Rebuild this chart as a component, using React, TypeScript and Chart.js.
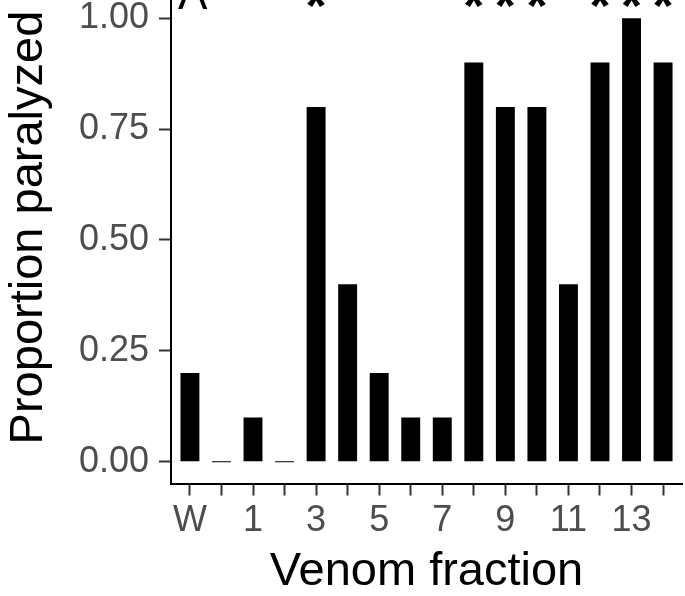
import React, { useEffect, useRef } from 'react';
import { Chart, registerables } from 'chart.js';

Chart.register(...registerables);

// ---- data ----
const CATEGORIES = ['W', '0', '1', '2', '3', '4', '5', '6', '7', '8', '9', '10', '11', '12', '13', '14'];
const PROPORTION = [0.2, 0, 0.1, 0, 0.8, 0.4, 0.2, 0.1, 0.1, 0.9, 0.8, 0.8, 0.4, 0.9, 1.0, 0.9];
const SIGNIFICANT = [false, false, false, false, true, false, false, false, false, true, true, true, false, true, true, true];
const Y_TICKS = [0, 0.25, 0.5, 0.75, 1.0];
const PANEL_LABEL = 'A';
const X_TITLE = 'Venom fraction';
const Y_TITLE = 'Proportion paralyzed';

// ---- scale ranges ----
const Y_MIN = -0.049;
const Y_MAX = 1.105;
const X_MIN = -0.6;
const X_MAX = CATEGORIES.length - 1 + 0.6;
const SIG_Y = 1.02;
const PANEL_Y = 1.02;

const FONT = '"Liberation Sans", Arial, Helvetica, sans-serif';
const OFFSET = 60;
const W = 685;
const H = 596 + OFFSET;

const annotatePlugin = {
  id: 'annotate',
  afterDatasetsDraw(chart: any) {
    const { ctx, chartArea } = chart;
    const x = chart.scales.x;
    const y = chart.scales.y;
    ctx.save();
    ctx.fillStyle = '#000000';
    ctx.font = `bold 54px ${FONT}`;
    ctx.textAlign = 'center';
    ctx.textBaseline = 'middle';
    SIGNIFICANT.forEach((s, i) => {
      if (s) ctx.fillText('*', x.getPixelForValue(i), y.getPixelForValue(SIG_Y));
    });
    ctx.font = `44px ${FONT}`;
    ctx.textAlign = 'left';
    ctx.textBaseline = 'alphabetic';
    ctx.fillText(PANEL_LABEL, chartArea.left + 7, y.getPixelForValue(PANEL_Y));
    ctx.restore();
  },
};

export default function App() {
  const ref = useRef<HTMLCanvasElement | null>(null);

  useEffect(() => {
    if (!ref.current) return;
    const chart = new Chart(ref.current, {
      type: 'bar',
      data: {
        datasets: [
          {
            data: PROPORTION.map((v, i) => ({ x: i, y: v })),
            backgroundColor: '#000000',
            borderWidth: 0,
            barPercentage: 0.6,
            categoryPercentage: 1,
            minBarLength: 1,
          },
        ],
      },
      options: {
        responsive: false,
        animation: false,
        devicePixelRatio: 1,
        layout: { padding: { top: 26.5, left: 0, right: 3, bottom: 0 } },
        plugins: { legend: { display: false }, tooltip: { enabled: false } },
        scales: {
          x: {
            type: 'linear',
            min: X_MIN,
            max: X_MAX,
            offset: false,
            afterBuildTicks: (s: any) => {
              s.ticks = CATEGORIES.map((_, i) => ({ value: i }));
            },
            afterFit: (s: any) => {
              s.height = H - (OFFSET + 483.5);
            },
            ticks: {
              autoSkip: false,
              maxRotation: 0,
              minRotation: 0,
              padding: 4,
              color: '#4d4d4d',
              font: { family: FONT, size: 36 },
              callback: (v: any) => {
                const i = Math.round(Number(v));
                return i % 2 === 0 ? CATEGORIES[i] : '';
              },
            },
            grid: {
              offset: false,
              drawOnChartArea: false,
              drawTicks: true,
              tickLength: 12,
              tickWidth: 2,
              tickColor: '#333333',
            },
            border: { display: true, color: '#000000', width: 2 },
            title: {
              display: true,
              text: X_TITLE,
              color: '#000000',
              font: { family: FONT, size: 47, lineHeight: 1 },
              padding: { top: 0, bottom: 0 },
            },
          },
          y: {
            type: 'linear',
            min: Y_MIN,
            max: Y_MAX,
            afterBuildTicks: (s: any) => {
              s.ticks = Y_TICKS.map((v) => ({ value: v }));
            },
            afterFit: (s: any) => {
              s.width = 171;
            },
            ticks: {
              padding: 10,
              color: '#4d4d4d',
              font: { family: FONT, size: 36 },
              callback: (v: any) => Number(v).toFixed(2),
            },
            grid: {
              drawOnChartArea: false,
              drawTicks: true,
              tickLength: 12,
              tickWidth: 2,
              tickColor: '#333333',
            },
            border: { display: true, color: '#000000', width: 2 },
            title: {
              display: true,
              text: Y_TITLE,
              color: '#000000',
              font: { family: FONT, size: 47, lineHeight: 1 },
              padding: { top: 5.5, bottom: 0 },
            },
          },
        },
      },
      plugins: [annotatePlugin],
    } as any);
    return () => chart.destroy();
  }, []);

  return (
    <div style={{ position: 'absolute', left: 0, top: -OFFSET, width: W, height: H, background: '#ffffff' }}>
      <canvas ref={ref} width={W} height={H} style={{ display: 'block', width: W, height: H }} />
    </div>
  );
}
